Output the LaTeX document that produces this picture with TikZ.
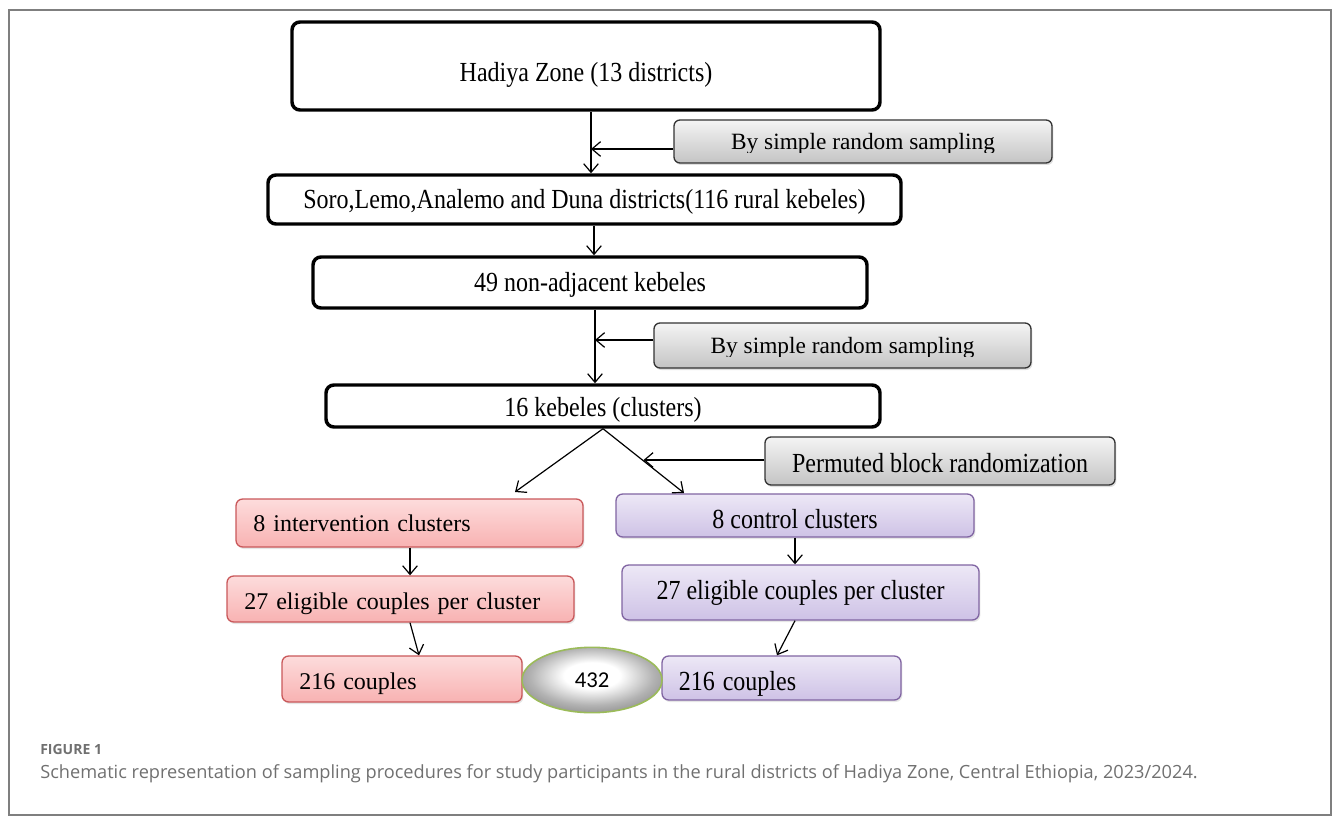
\documentclass[tikz,border=0pt]{standalone}
\usepackage{fontspec}
\setmainfont{Liberation Serif}
\newfontfamily\capfont{Open Sans}
\newfontfamily\numfont{Carlito}
\usetikzlibrary{arrows.meta,shadows,calc,shapes.geometric}
\definecolor{frame}{HTML}{7F7F7F}
\definecolor{pinktop}{HTML}{FDDCDC}
\definecolor{pinkbot}{HTML}{F8B2B2}
\definecolor{pinkline}{HTML}{C9585A}
\definecolor{purtop}{HTML}{EDE8F6}
\definecolor{purbot}{HTML}{CEC2E6}
\definecolor{purline}{HTML}{8064A2}
\definecolor{graytop}{HTML}{F4F4F4}
\definecolor{graybot}{HTML}{C4C4C4}
\definecolor{ellline}{HTML}{9BBB59}
\definecolor{captext}{HTML}{707070}
\pgfdeclareradialshading{ellsh}{\pgfpoint{0bp}{4bp}}{%
  color(0bp)=(white); color(10bp)=(white); color(22bp)=(black!30);
  color(32bp)=(black!48); color(50bp)=(black!56); color(70bp)=(black!58)}
% baseline shift, vertical stretch, text
\newcommand{\tx}[3]{\raisebox{-#1}[0pt][0pt]{\scalebox{1}[#2]{#3}}}
\tikzset{
  blackbox/.style={draw=black, line width=2.6pt, rounded corners=6pt, fill=white,
    inner sep=0pt, font=\fontsize{18}{20}\selectfont},
  graybox/.style={draw=black!80, line width=1pt, rounded corners=4.5pt,
    top color=graytop, bottom color=graybot, inner sep=0pt,
    drop shadow={shadow xshift=1pt, shadow yshift=-1.5pt, opacity=0.25},
    font=\fontsize{17.5}{19}\selectfont},
  pinkbox/.style={draw=pinkline, line width=1pt, rounded corners=5pt,
    top color=pinktop, bottom color=pinkbot, inner ysep=0pt, inner xsep=13pt, align=left,
    drop shadow={shadow xshift=1pt, shadow yshift=-1.5pt, opacity=0.2},
    font=\fontsize{18}{20}\selectfont},
  purbox/.style={draw=purline, line width=1pt, rounded corners=5pt,
    top color=purtop, bottom color=purbot, inner sep=0pt,
    drop shadow={shadow xshift=1pt, shadow yshift=-1.5pt, opacity=0.2},
    font=\fontsize{18}{20}\selectfont},
  arr/.style={-{Straight Barb[length=6.5pt,width=11pt]}, line width=0.9pt},
}
\begin{document}
\begin{tikzpicture}[x=0.75pt,y=-0.75pt]
\useasboundingbox (0,0) rectangle (1333,816);
\draw[frame, line width=1.4pt] (9,10) rectangle (1331,815);

% black boxes
\node[blackbox, minimum width=441pt, minimum height=66pt] (b1) at (586,66) {\tx{12pt}{1.15}{Hadiya Zone (13 districts)}};
\node[blackbox, minimum width=474.75pt, minimum height=36.75pt] (b2) at (584.5,199.5) {\tx{7.1pt}{1.15}{Soro,Lemo,Analemo and Duna districts(116 rural kebeles)}};
\node[blackbox, minimum width=415.5pt, minimum height=38.25pt] (b3) at (590,282.5) {\tx{7.1pt}{1.15}{49 non-adjacent kebeles}};
\node[blackbox, minimum width=415.5pt, minimum height=31.5pt] (b4) at (603,406) {\tx{7.5pt}{1.15}{16 kebeles (clusters)}};

% gray boxes (text cut off at the bottom, as in the reference)
\node[graybox, minimum width=283.5pt, minimum height=32.25pt,
  path picture={\clip ([yshift=-8.2pt]path picture bounding box.west) rectangle (path picture bounding box.north east);
    \node[anchor=base, inner sep=0pt, font=\fontsize{17.5}{19}\selectfont] at ([yshift=-6pt]path picture bounding box.center) {By simple random sampling};}] (g1) at (863,141.5) {};
\node[graybox, minimum width=282.75pt, minimum height=33.75pt,
  path picture={\clip ([yshift=-8.2pt]path picture bounding box.west) rectangle (path picture bounding box.north east);
    \node[anchor=base, inner sep=0pt, font=\fontsize{17.5}{19}\selectfont] at ([yshift=-6pt]path picture bounding box.center) {By simple random sampling};}] (g2) at (842.5,345.5) {};
\node[graybox, minimum width=262.5pt, minimum height=36pt, font=\fontsize{18}{20}\selectfont] (g3) at (940,461) {\tx{8.3pt}{1.15}{Permuted block randomization}};

% pink boxes
\node[pinkbox, text width=234.25pt, minimum height=36pt] (p1) at (409.5,523) {\tx{6pt}{1}{8 intervention clusters}};
\node[pinkbox, text width=234.25pt, minimum height=34.5pt] (p2) at (400.5,599) {\tx{7.5pt}{1}{27 eligible couples per cluster}};
\node[pinkbox, text width=154pt, minimum height=34.5pt] (p3) at (402,679) {\tx{7.5pt}{1}{216 couples}};

% purple boxes
\node[purbox, minimum width=268.5pt, minimum height=32.25pt] (q1) at (795,515.5) {\tx{9.4pt}{1.15}{8 control clusters}};
\node[purbox, minimum width=267.75pt, minimum height=41.25pt] (q2) at (800.5,592.5) {\tx{5.6pt}{1.15}{27 eligible couples per cluster}};
\node[purbox, minimum width=179.25pt, minimum height=33pt, align=left, text width=154pt, inner xsep=12.6pt] (q3) at (781.5,678) {\tx{9pt}{1.15}{216 couples}};

% ellipse
\node[ellipse, draw=ellline, line width=1.2pt, minimum width=105pt, minimum height=49pt,
  shading=ellsh, font=\numfont\fontsize{17}{18}\selectfont] (e) at (592,680) {432};

% connectors
\coordinate (x1) at (591,0);
\coordinate (x2) at (594,0);
\coordinate (x3) at (595,0);
\draw[arr] (b1.south -| x1) -- (b2.north -| x1);
\coordinate (j1) at (591,149);
\draw[arr] (g1.west |- j1) -- (j1);
\draw[arr] (b2.south -| x2) -- (b3.north -| x2);
\draw[arr] (b3.south -| x3) -- (b4.north -| x3);
\coordinate (j2) at (595,340);
\draw[arr] (g2.west |- j2) -- (j2);

\coordinate (s4) at (603,427);
\coordinate (tl) at (515,492);
\coordinate (tr) at (684,493);
\draw[arr] (b4.south -| s4) -- (tl);
\draw[arr] (b4.south -| s4) -- (tr);
\coordinate (j3) at ($(s4)!0.5!(tr)$);
\draw[arr] (g3.west |- j3) -- (j3);

\coordinate (xp) at (410,0);
\draw[arr] (p1.south -| xp) -- (p2.north -| xp);
\coordinate (xp2) at (419,0);
\draw[arr] (p2.south -| xp) -- (p3.north -| xp2);

\coordinate (xq) at (795,0);
\coordinate (xq2) at (777,0);
\draw[arr] (q1.south -| xq) -- (q2.north -| xq);
\draw[arr] (q2.south -| xq) -- (q3.north -| xq2);

% caption
\node[anchor=base west, inner sep=0pt, text=captext, font=\capfont\bfseries\fontsize{10.5}{12}\selectfont] (fig) at (40,754) {FIGURE 1};
\node[anchor=base west, inner sep=0pt, text=captext, font=\capfont\fontsize{13.64}{16}\selectfont] (cap) at (40,778) {Schematic representation of sampling procedures for study participants in the rural districts of Hadiya Zone, Central Ethiopia, 2023/2024.};
\end{tikzpicture}
\end{document}
